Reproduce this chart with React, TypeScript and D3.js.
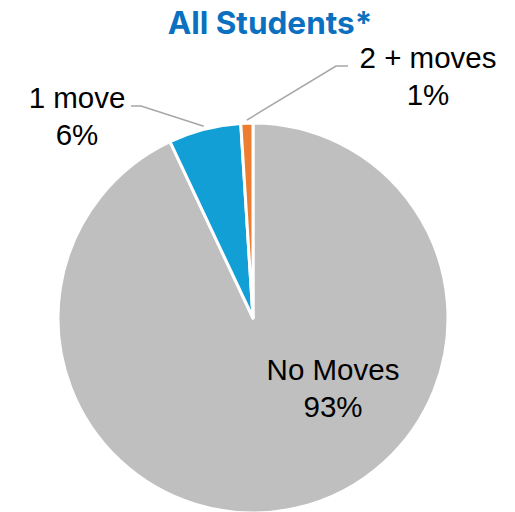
import { useRef, useEffect } from "react";
import * as d3 from "d3";

const categories = ["No Moves", "1 move", "2 + moves"];
const values = [93, 6, 1];
const colors = ["#BFBFBF", "#129FD6", "#ED7D31"];

// label anchors (center / first baseline of the two-line label), relative to pie center
const labelOffsets: [number, number][] = [
  [80, 62],
  [-176, -210],
  [175, -250],
];

export default function App() {
  const svgRef = useRef<SVGSVGElement>(null);

  useEffect(() => {
    document.body.style.margin = "0";
    if (!svgRef.current) return;
    const width = 515;
    const height = 512;
    const cx = 253;
    const cy = 318;
    const radius = 195;

    const svg = d3.select(svgRef.current);
    svg.selectAll("*").remove();
    svg.attr("width", width).attr("height", height);

    svg.append("text")
      .attr("x", 270)
      .attr("y", 34)
      .attr("text-anchor", "middle")
      .attr("fill", "#0B70C0")
      .attr("font-size", "31.5px")
      .attr("font-weight", "700")
      .attr("font-family", "Inter, 'Open Sans', sans-serif")
      .text("All Students*");

    const data = categories.map((c, i) => ({ name: c, value: values[i], color: colors[i], idx: i }));
    const pie = d3.pie<any>().sort(null).value((d) => d.value);
    const arcs = pie(data);
    const arc = d3.arc<any>().innerRadius(0).outerRadius(radius);

    const g = svg.append("g").attr("transform", `translate(${cx},${cy})`);

    g.selectAll("path.slice")
      .data(arcs)
      .join("path")
      .attr("class", "slice")
      .attr("d", arc)
      .attr("fill", (d) => d.data.color)
      .attr("stroke", "#ffffff")
      .attr("stroke-width", 3)
      .attr("stroke-linejoin", "round");

    // leader lines for small slices
    arcs.forEach((a, i) => {
      if (i === 0) return;
      const mid = (a.startAngle + a.endAngle) / 2;
      const r = radius + 3;
      const px = r * Math.sin(mid);
      const py = -r * Math.cos(mid);
      const [lx, ly] = labelOffsets[i];
      const right = lx > 0;
      const elbowX = right ? lx - 92 : lx + 64;
      const endX = right ? lx - 80 : lx + 54;
      const lineY = ly - 2;
      g.append("polyline")
        .attr("points", `${px},${py} ${elbowX},${lineY} ${endX},${lineY}`)
        .attr("fill", "none")
        .attr("stroke", "#A6A6A6")
        .attr("stroke-width", 1.5);
    });

    arcs.forEach((a, i) => {
      const [lx, ly] = labelOffsets[i];
      const t = g.append("text")
        .attr("text-anchor", "middle")
        .attr("font-size", "29.5px")
        .attr("font-family", "'Liberation Sans', Arial, sans-serif")
        .attr("fill", "#000000");
      t.append("tspan").attr("x", lx).attr("y", ly).text(a.data.name);
      t.append("tspan").attr("x", lx).attr("y", ly + 37).text(`${a.data.value}%`);
    });
  }, []);

  return <svg ref={svgRef} style={{ display: "block" }} />;
}
